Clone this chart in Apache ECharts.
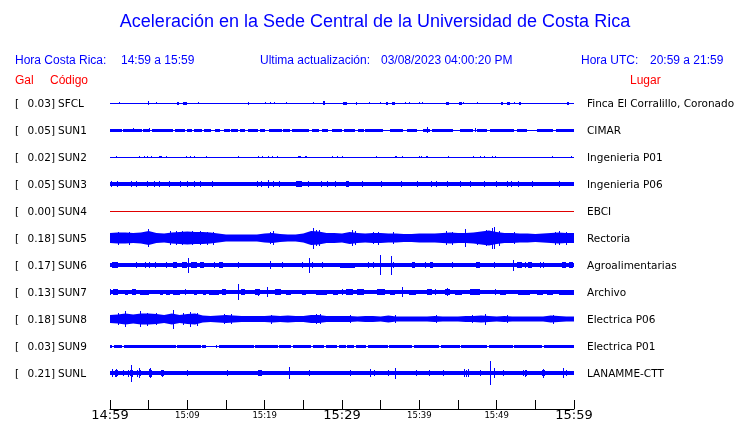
<!DOCTYPE html>
<html>
<head>
<meta charset="utf-8">
<script src="https://cdn.jsdelivr.net/npm/echarts@6/dist/echarts.min.js"></script>
<style>html,body{margin:0;padding:0;background:#fff}#c{width:740px;height:423px}</style>
</head>
<body>
<div id="c"></div>
<script>
// ---------- texts ----------
const titleText = 'Aceleración en la Sede Central de la Universidad de Costa Rica';
const headerTexts = ['Hora Costa Rica:', '14:59 a 15:59', 'Ultima actualización:', '03/08/2023 04:00:20 PM', 'Hora UTC:', '20:59 a 21:59'];
const columnTexts = ['Gal', 'Código', 'Lugar'];
const startTime = '14:59';
const tickMinutes = [0, 5, 10, 15, 20, 25, 30, 35, 40, 45, 50, 55, 60];

// ---------- stations ----------
const codes = ['SFCL', 'SUN1', 'SUN2', 'SUN3', 'SUN4', 'SUN5', 'SUN6', 'SUN7', 'SUN8', 'SUN9', 'SUNL'];
const peaks = ['0.03', '0.05', '0.02', '0.05', '0.00', '0.18', '0.17', '0.13', '0.18', '0.03', '0.21'];
const places = ['Finca El Corralillo, Coronado', 'CIMAR', 'Ingenieria P01', 'Ingenieria P06', 'EBCI', 'Rectoria',
  'Agroalimentarias', 'Archivo', 'Electrica P06', 'Electrica P01', 'LANAMME-CTT'];
// background noise half-amplitude of each trace (axis units)
const baseAmp = [0.5, 0.5, 0.5, 1.8, 0.5, 0, 1.7, 1.7, 0, 0.5, 1.8];

// bursts: [start minute, end minute, half amplitude]; spikes: [minute, half amplitude]
const sfclBursts = [[8.6,8.9,1.5],[9.4,9.9,1.5],[17.8,18.0,1.5],[27.6,27.8,1.8],[30.1,30.6,1.5],[31.8,32.0,1.5],[35.7,35.9,1.5],[36.5,36.9,1.5],[43.4,43.8,1.5],[45.1,45.5,1.5],[50.6,50.8,1.5],[51.4,51.7,1.5],[52.9,53.1,1.5],[59.1,59.3,1.5]];
const sfclSpikes = [[1.2,0.9],[4.9,2.0],[5.9,0.9],[11.4,0.9],[20.0,0.9],[20.7,1.1],[21.25,1.1],[22.7,1.0],[26.2,0.9],[33.5,0.9],[34.9,0.9],[38.1,0.9],[38.6,0.9],[40.0,1.1],[40.3,1.1],[45.7,1.0],[47.4,1.0],[52.2,1.0]];

const sun1Bursts = [[0,1.5,1.5],[1.7,4.1,1.5],[4.3,5.2,1.5],[5.4,8.2,1.5],[8.4,9.7,1.5],[9.9,10.6,1.5],[10.8,11.85,1.5],[12.1,13.1,1.5],[13.6,14.2,1.5],[14.7,15.5,1.5],[15.7,16.6,1.5],[16.8,17.4,1.5],[17.9,19.2,1.5],[19.4,20.0,1.5],[20.5,22.2,1.5],[22.4,23.3,1.5],[23.5,25.7,1.5],[26.1,27.0,1.5],[27.4,28.2,1.5],[28.7,30.0,1.5],[30.2,31.7,1.5],[32.1,32.8,1.5],[33.0,35.3,1.5],[36.2,37.9,1.5],[38.4,39.7,1.5],[40.5,41.4,1.5],[41.6,44.4,1.5],[45.3,47.0,1.5],[47.4,48.7,1.5],[49.1,52.2,1.5],[52.6,53.9,1.5],[55.2,57.3,1.5],[57.7,60,1.5]];
const sun1Spikes = [[3.0,1.9],[5.0,2.0],[40.95,2.6],[47.2,2.3]];

const sun2Bursts = [[6.4,6.7,1.0],[24.3,24.7,1.0],[25.2,25.5,1.0],[36.8,37.1,1.1],[40.8,41.1,1.1]];
const sun2Spikes = [[0.73,0.8],[3.79,0.9],[4.44,0.9],[4.74,1.0],[5.26,0.9],[7.24,0.9],[9.83,0.9],[10.3,0.9],[10.8,0.9],[12.4,0.9],[16.6,1.0],[19.2,0.8],[19.6,0.8],[20.4,0.9],[20.9,0.9],[21.6,0.8],[28.7,0.8],[29.3,0.8],[30.0,0.8],[34.35,0.8],[37.7,0.9],[39.9,0.8],[40.2,0.9],[43.75,0.8],[46.99,0.8],[47.8,0.9],[48.37,1.0],[49.4,0.8],[49.8,0.9],[57.2,0.9],[59.6,0.9]];

const sun3Bursts = [[24.1,24.8,2.6],[29.8,30.2,2.4],[30.5,30.9,2.8],[55.5,60,2.2]];
const sun3Spikes = [[0.09,3.1],[0.87,2.9],[2.72,2.9],[3.32,2.9],[4.83,2.9],[5.73,2.9],[6.34,2.9],[7.67,2.9],[9.1,2.9],[9.9,3.1],[10.8,2.9],[11.7,2.9],[13.2,2.9],[18.96,3.0],[19.5,3.0],[20.4,3.8],[21.1,3.0],[21.8,3.0],[24.3,3.1],[24.6,3.3],[25.6,3.0],[27.3,2.9],[28.0,2.9],[29.1,3.0],[30.7,3.3],[32.6,2.8],[35.0,2.8],[37.6,2.8],[39.7,2.8],[41.5,2.9],[42.1,2.8],[43.6,2.8],[45.3,3.1],[46.6,2.8],[48.4,2.8],[49.9,2.8],[51.4,2.9],[51.9,2.8],[52.7,2.8],[54.6,2.8],[58.0,2.8]];

const sun4Bursts = [];
const sun4Spikes = [];

// envelope half amplitude, one value per minute 0..60
const sun5Envelope = [5,5.5,5.5,5,5.5,7,5,4.5,5.5,6,6.5,6,6,5.5,4.5,3.5,3.5,3.5,3.5,3.5,4.5,5,4,3.5,3.5,4.5,7,6.5,5,5,4.5,6,5,4.5,5,5,4.5,4.5,4,4,4.5,4.5,4.5,5,5.5,5,5,5.5,6.5,7.5,6,5,5,4.5,4.5,4,4.5,5,5.5,5,5];
const sun5Bursts = [];
const sun5Spikes = [[1.0,6.5],[2.5,6.5],[4.9,8.8],[7.8,7],[8.5,7],[9.3,7],[10.6,7],[11.7,7],[12.6,6.5],[13.3,6.5],[20.7,6],[21.1,7],[26.2,10.5],[26.6,8],[27.0,8],[31.25,8],[31.7,7],[34.0,6],[34.6,6.5],[36.6,6],[43.4,7],[44.2,6.5],[45.9,9],[47.4,6.5],[48.6,8],[49.4,10.5],[49.7,11],[50.3,7.5],[52.2,6],[57.5,6.5],[58.0,7],[59.0,6.5]];

const sun6Bursts = [[0.3,1.0,2.6],[8.1,8.6,2.6],[9.3,9.9,2.9],[10.5,11.3,2.9],[11.6,12.1,2.9],[14.1,14.6,2.6],[29.8,31.7,2.5],[39.0,39.4,2.6],[41.4,41.8,2.8],[47.3,47.9,2.6],[52.6,53.3,2.9],[54.0,54.6,3.0],[58.4,59.0,2.8],[59.4,59.9,2.8]];
const sun6Spikes = [[0.65,3.0],[3.36,3.4],[4.53,2.9],[5.09,2.9],[5.8,2.9],[7.24,3.2],[9.6,3.3],[10.13,7.5],[10.9,3.3],[11.85,3.3],[13.4,2.9],[16.6,2.9],[20.7,4],[22.2,2.9],[24.8,2.9],[25.7,7.5],[26.1,3.0],[27.4,2.9],[33.4,2.9],[34.05,2.9],[34.9,10],[36.4,9.5],[36.6,3.0],[40.7,2.9],[44.2,2.9],[49.6,3.0],[52.1,5.5],[53.7,2.9],[55.6,2.9],[56.0,2.9],[59.7,3.0]];

const sun7Bursts = [[0.4,1.0,2.6],[2.0,2.3,2.5],[2.8,3.3,2.8],[3.9,5.1,2.5],[6.5,6.9,2.5],[7.3,7.7,2.5],[8.2,9.0,2.5],[10.9,11.2,2.5],[12.0,12.4,2.5],[12.8,14.1,2.5],[14.5,15.0,2.6],[16.9,17.5,2.8],[18.7,19.4,2.9],[21.4,22.1,2.6],[22.8,23.4,2.5],[24.8,25.3,2.5],[26.7,28.1,2.5],[28.9,29.5,2.5],[30.5,31.4,2.6],[32.0,32.8,2.6],[34.5,35.6,2.6],[36.2,36.8,2.5],[38.6,39.6,2.5],[41.0,41.6,2.6],[43.3,43.9,2.8],[44.6,45.5,2.5],[46.6,47.9,2.6],[50.4,51.2,2.5],[52.8,54.3,2.5],[55.2,56.0,2.5],[56.5,57.3,2.5],[58.1,60,2.5]];
const sun7Spikes = [[0.0,3.0],[9.7,2.9],[16.6,8],[18.8,3.3],[19.1,3.5],[20.3,5],[30.0,3.0],[37.7,5],[42.0,2.9],[43.35,3.4],[43.6,3.8],[43.85,3.3],[49.8,3.0]];

const sun8Envelope = [4,4.5,5.5,4.5,5.5,5.5,5,4,5.5,4,5,5.5,3.5,3,3.5,4,3.5,3,3,3,3,3.5,3,3.5,3,3,4,4,3,3,3,3,2.5,3,3,2.5,3.5,2.5,2.5,2.5,2.5,2.5,3,2.5,2.5,2.5,3,3,3.5,3,2.5,3,2.5,2.5,2.5,2.5,2.5,3.5,3,2.5,2.5];
const sun8Bursts = [];
const sun8Spikes = [[1.0,6],[2.0,8],[3.9,8],[4.8,6.5],[6.0,6],[8.2,9.5],[9.5,6],[10.4,7.5],[11.2,6.5],[14.8,5],[15.6,5],[20.8,4.5],[26.6,5],[27.2,5],[31.0,4],[36.8,4],[42.2,3.8],[46.8,4],[48.5,5.5],[51.3,4],[57.3,4.5]];

const sun9Bursts = [[0,0.3,1.5],[0.5,1.6,1.5],[1.8,8.5,1.5],[8.7,11.8,1.5],[11.95,12.4,1.5],[13.7,13.9,1.5],[14.1,18.6,1.5],[18.8,21.7,1.5],[21.9,23.4,1.5],[23.6,26.0,1.5],[26.2,27.7,1.5],[27.9,29.4,1.5],[29.6,30.5,1.5],[30.7,31.6,1.5],[31.8,33.1,1.5],[33.3,35.9,1.5],[36.1,39.1,1.5],[39.3,42.6,1.5],[42.8,45.2,1.5],[45.4,48.8,1.5],[49.0,52.1,1.5],[52.3,55.9,1.5],[56.1,60,1.5]];
const sun9Spikes = [];

const sunlBursts = [[19.2,19.6,2.9]];
const sunlSpikes = [[0.22,4],[0.7,3.5],[0.82,4],[0.95,3],[1.72,2.9],[2.3,3.5],[2.55,3],[2.72,8.5],[2.9,3.5],[3.5,3.5],[3.75,5],[3.9,3],[5.0,4],[5.17,5],[5.3,3.5],[6.6,3],[6.77,3.5],[6.85,3],[10.0,2.9],[15.1,2.9],[23.15,6],[25.7,2.9],[31.0,3],[33.6,4],[34.1,2.9],[36.0,2.9],[36.8,5.5],[39.6,2.9],[41.3,2.9],[43.1,2.9],[45.75,4],[46.0,3.5],[46.25,4],[47.8,2.9],[49.2,12],[49.6,5],[50.8,2.9],[53.35,3],[53.6,3.5],[53.85,3],[55.9,3],[56.0,4.5],[56.15,3],[58.6,5],[58.97,3]];

const allBursts = [sfclBursts, sun1Bursts, sun2Bursts, sun3Bursts, sun4Bursts, sun5Bursts, sun6Bursts, sun7Bursts, sun8Bursts, sun9Bursts, sunlBursts];
const allSpikes = [sfclSpikes, sun1Spikes, sun2Spikes, sun3Spikes, sun4Spikes, sun5Spikes, sun6Spikes, sun7Spikes, sun8Spikes, sun9Spikes, sunlSpikes];
const allEnvelopes = [null, null, null, null, null, sun5Envelope, null, null, sun8Envelope, null, null];

// ---------- style ----------
const BLUE = '#0000ff';
const RED = '#ff0000';
const traceColors = codes.map(c => c === 'SUN4' ? '#e00000' : BLUE);
const SANS = 'Liberation Sans';
const DV = 'DejaVu Sans';
const TRACE_STEP = 27;
const TOP_CENTER = 306;

function fmtTime(v) {
  const p = startTime.split(':');
  const t = (+p[0]) * 60 + (+p[1]) + v;
  return Math.floor(t / 60) + ':' + String(t % 60).padStart(2, '0');
}

const chart = echarts.init(document.getElementById('c'), null, { renderer: 'canvas' });

const series = codes.map((code, k) => {
  const c = TOP_CENTER - TRACE_STEP * k;
  const color = traceColors[k];
  const env = allEnvelopes[k];
  const data = [[0, 60, baseAmp[k], 0]];
  if (env) data.push([0, 60, 0, 3]);
  allBursts[k].forEach(b => data.push([b[0], b[1], b[2], 1]));
  allSpikes[k].forEach(s => data.push([s[0], s[0], s[1], 2]));
  return {
    type: 'custom',
    coordinateSystem: 'cartesian2d',
    silent: true,
    animation: false,
    clip: false,
    encode: { x: [0, 1], y: 2 },
    data: data,
    renderItem: function (params, api) {
      const m0 = api.value(0), m1 = api.value(1), a = api.value(2), kind = api.value(3);
      if (kind === 3) {
        const pts = [];
        for (let i = 0; i < env.length; i++) pts.push(api.coord([i, c + env[i]]));
        for (let i = env.length - 1; i >= 0; i--) pts.push(api.coord([i, c - env[i]]));
        return { type: 'polygon', shape: { points: pts }, style: { fill: color } };
      }
      const top = Math.round(api.coord([m0, c + a])[1]);
      let bot = Math.round(api.coord([m0, c - a])[1]);
      if (bot <= top) bot = top + 1;
      let x0 = api.coord([m0, c])[0];
      let x1 = api.coord([m1, c])[0];
      if (kind === 2) { x0 = Math.round(x0); x1 = x0 + 1; }
      else { x0 = Math.round(x0); x1 = Math.max(x0 + 1, Math.round(x1)); }
      const rect = {
        type: 'rect',
        shape: { x: x0, y: top, width: x1 - x0, height: bot - top },
        style: { fill: color }
      };
      if (kind !== 0) return rect;
      const p = api.coord([0, c]);
      const q = api.coord([60, c]);
      const ty = p[1] + 1;
      const ts = { fill: '#000', fontSize: 10.5, fontFamily: DV, verticalAlign: 'middle' };
      const children = [];
      if (a > 0) children.push(rect);
      children.push({ type: 'text', style: Object.assign({ text: '[', x: p[0] - 95, y: ty, align: 'left' }, ts) });
      children.push({ type: 'text', style: Object.assign({ text: peaks[k] + ']', x: p[0] - 55, y: ty, align: 'right' }, ts) });
      children.push({ type: 'text', style: Object.assign({ text: code, x: p[0] - 52, y: ty, align: 'left' }, ts) });
      children.push({ type: 'text', style: Object.assign({ text: places[k], x: q[0] + 13, y: ty, align: 'left' }, ts) });
      return { type: 'group', children: children };
    }
  };
});

function headerText(text, x, y, color, size) {
  return { type: 'text', x: x, y: y, silent: true,
    style: { text: text, fill: color, fontSize: size, fontFamily: SANS, verticalAlign: 'middle', align: 'left' } };
}

chart.setOption({
  animation: false,
  backgroundColor: '#fff',
  grid: { left: 110, right: 166, top: 85, bottom: 14 },
  xAxis: {
    type: 'value', min: tickMinutes[0], max: tickMinutes[tickMinutes.length - 1], interval: 5,
    axisLine: { show: true, lineStyle: { color: '#000', width: 1 } },
    axisTick: { show: true, inside: true, length: 9, lineStyle: { color: '#000', width: 1 } },
    splitLine: { show: false },
    axisLabel: {
      margin: 0, showMinLabel: true, showMaxLabel: true, hideOverlap: false,
      formatter: function (v) {
        if (v % 10 !== 0) return '';
        return (v % 30 === 0 ? '{b|' : '{s|') + fmtTime(v) + '}';
      },
      rich: {
        b: { fontSize: 13, fontFamily: DV, lineHeight: 14, color: '#000' },
        s: { fontSize: 8.5, fontFamily: DV, lineHeight: 14, color: '#000' }
      }
    }
  },
  yAxis: { type: 'value', min: 0, max: 324, show: false },
  graphic: [
    { type: 'text', x: 375, y: 22, silent: true,
      style: { text: titleText, fill: BLUE, fontSize: 18, fontFamily: SANS, align: 'center', verticalAlign: 'middle' } },
    headerText(headerTexts[0], 15, 61, BLUE, 12),
    headerText(headerTexts[1], 121, 61, BLUE, 12),
    headerText(headerTexts[2], 260, 61, BLUE, 12),
    headerText(headerTexts[3], 381, 61, BLUE, 12),
    headerText(headerTexts[4], 581, 61, BLUE, 12),
    headerText(headerTexts[5], 650, 61, BLUE, 12),
    headerText(columnTexts[0], 15, 81, RED, 12),
    headerText(columnTexts[1], 50, 81, RED, 12),
    headerText(columnTexts[2], 630, 81, RED, 12)
  ],
  series: series
});
</script>
</body>
</html>
